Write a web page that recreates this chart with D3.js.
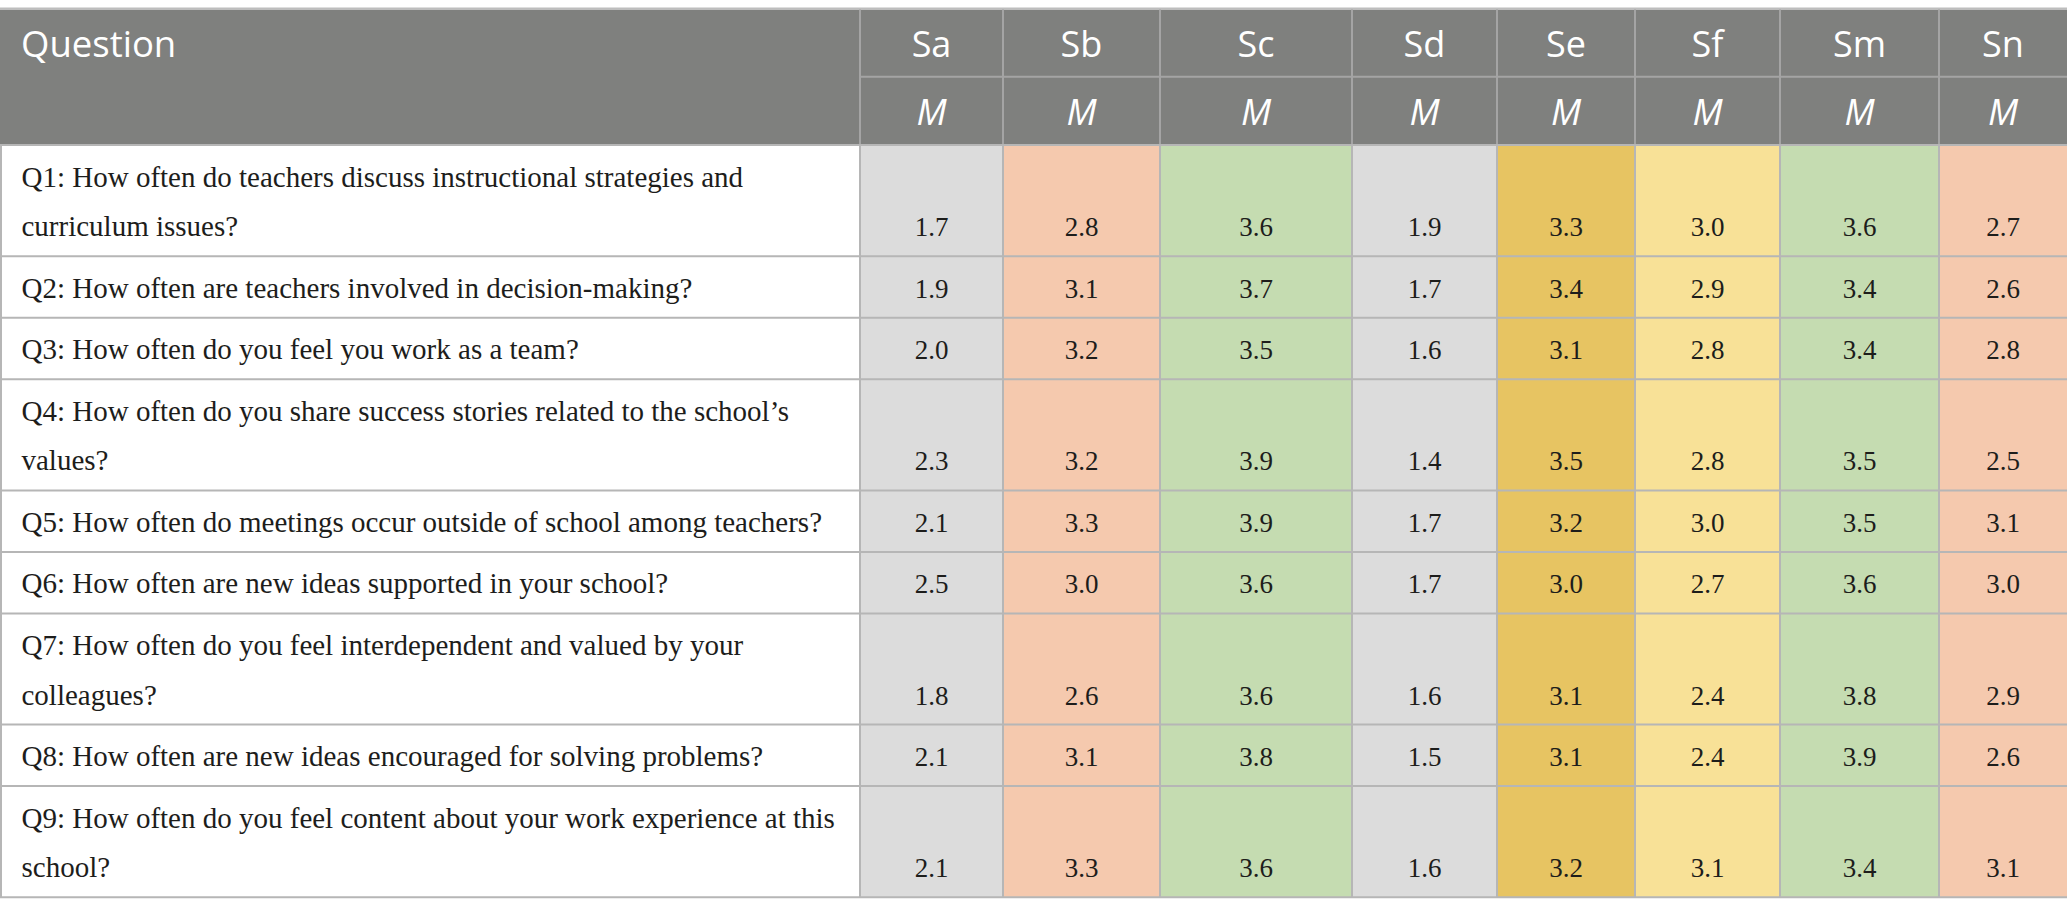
<!DOCTYPE html>
<html>
<head>
<meta charset="utf-8">
<script src="https://cdn.jsdelivr.net/npm/d3@7"></script>
<style>
  body { margin: 0; background: #fff; }
  svg { display: block; }
</style>
</head>
<body>
<div id="table"></div>
<script>
// Schools (columns) and the stat shown under each
const schools = ["Sa", "Sb", "Sc", "Sd", "Se", "Sf", "Sm", "Sn"];
const statLabel = "M";
const firstHeader = "Question";

// Question text, split where the original wraps
const questions = [
  ["Q1: How often do teachers discuss instructional strategies and", "curriculum issues?"],
  ["Q2: How often are teachers involved in decision-making?"],
  ["Q3: How often do you feel you work as a team?"],
  ["Q4: How often do you share success stories related to the school\u2019s", "values?"],
  ["Q5: How often do meetings occur outside of school among teachers?"],
  ["Q6: How often are new ideas supported in your school?"],
  ["Q7: How often do you feel interdependent and valued by your", "colleagues?"],
  ["Q8: How often are new ideas encouraged for solving problems?"],
  ["Q9: How often do you feel content about your work experience at this", "school?"]
];

// Mean per school, Q1..Q9
const sa = [1.7, 1.9, 2.0, 2.3, 2.1, 2.5, 1.8, 2.1, 2.1];
const sb = [2.8, 3.1, 3.2, 3.2, 3.3, 3.0, 2.6, 3.1, 3.3];
const sc = [3.6, 3.7, 3.5, 3.9, 3.9, 3.6, 3.6, 3.8, 3.6];
const sd = [1.9, 1.7, 1.6, 1.4, 1.7, 1.7, 1.6, 1.5, 1.6];
const se = [3.3, 3.4, 3.1, 3.5, 3.2, 3.0, 3.1, 3.1, 3.2];
const sf = [3.0, 2.9, 2.8, 2.8, 3.0, 2.7, 2.4, 2.4, 3.1];
const sm = [3.6, 3.4, 3.4, 3.5, 3.5, 3.6, 3.8, 3.9, 3.4];
const sn = [2.7, 2.6, 2.8, 2.5, 3.1, 3.0, 2.9, 2.6, 3.1];

const series = { Sa: sa, Sb: sb, Sc: sc, Sd: sd, Se: se, Sf: sf, Sm: sm, Sn: sn };

// Layout
const W = 2067, H = 916;
const tableTop = 9.5, headMid = 76.7, headBottom = 145;
const colWidths = [860, 143, 157, 192, 145, 138, 145, 159, 128];
const linePad = 11.8, lineStep = 49.7;

const fills = {
  Sa: "#dcdcdc", Sb: "#f5c9ae", Sc: "#c5dcb1", Sd: "#dcdcdc",
  Se: "#e7c462", Sf: "#f8e197", Sm: "#c5dcb1", Sn: "#f5c9ae"
};

const columns = [firstHeader, ...schools];
const lefts = [0, ...d3.cumsum(colWidths)].slice(0, columns.length);
const x = d3.scaleOrdinal().domain(columns).range(lefts);
const colW = d3.scaleOrdinal().domain(columns).range(colWidths);

const rowH = questions.map(q => linePad + lineStep * q.length);
const rowTops = [headBottom, ...d3.cumsum(rowH).map(v => headBottom + v)];
const y = d3.scaleOrdinal().domain(d3.range(questions.length)).range(rowTops);
const tableBottom = rowTops[questions.length];

const svg = d3.select("#table").append("svg")
  .attr("width", W)
  .attr("height", H);

// Header background
svg.append("rect")
  .attr("x", 0).attr("y", tableTop)
  .attr("width", W).attr("height", headBottom - tableTop)
  .attr("fill", "#7f807e");

svg.append("line")
  .attr("x1", 0).attr("x2", W)
  .attr("y1", tableTop - 1).attr("y2", tableTop - 1)
  .attr("stroke", "#bdbdbd").attr("stroke-width", 2);

// Body cells
const cells = [];
questions.forEach((q, i) => {
  cells.push({ row: i, col: firstHeader, fill: "#ffffff" });
  schools.forEach(s => cells.push({ row: i, col: s, fill: fills[s], value: series[s][i] }));
});

svg.append("g")
  .selectAll("rect")
  .data(cells)
  .join("rect")
  .attr("x", d => x(d.col))
  .attr("y", d => y(d.row))
  .attr("width", d => colW(d.col))
  .attr("height", d => rowH[d.row])
  .attr("fill", d => d.fill);

// Grid lines: header
const grid = svg.append("g").attr("fill", "none");
grid.append("line")
  .attr("x1", x("Sa")).attr("x2", W)
  .attr("y1", headMid).attr("y2", headMid)
  .attr("stroke", "#a4a4a4").attr("stroke-width", 2);

grid.selectAll(".hv")
  .data(schools)
  .join("line")
  .attr("class", "hv")
  .attr("x1", d => x(d)).attr("x2", d => x(d))
  .attr("y1", tableTop).attr("y2", headBottom)
  .attr("stroke", "#a4a4a4").attr("stroke-width", 2);

// Grid lines: body
grid.selectAll(".bv")
  .data([...schools, "left"])
  .join("line")
  .attr("class", "bv")
  .attr("x1", d => d === "left" ? 1 : x(d))
  .attr("x2", d => d === "left" ? 1 : x(d))
  .attr("y1", headBottom).attr("y2", tableBottom)
  .attr("stroke", "#b6b6b6").attr("stroke-width", 2);

grid.selectAll(".bh")
  .data(rowTops)
  .join("line")
  .attr("class", "bh")
  .attr("x1", 0).attr("x2", W)
  .attr("y1", d => d).attr("y2", d => d)
  .attr("stroke", "#b6b6b6").attr("stroke-width", 2);

// Header text
const headFont = "'Open Sans', 'Noto Sans', sans-serif";
svg.append("text")
  .attr("x", 21).attr("y", 56.7)
  .attr("font-family", headFont).attr("font-size", 36.5)
  .attr("fill", "#fff")
  .text(firstHeader);

svg.append("g")
  .selectAll("text")
  .data(schools)
  .join("text")
  .attr("x", d => x(d) + colW(d) / 2)
  .attr("y", 56.7)
  .attr("text-anchor", "middle")
  .attr("font-family", headFont).attr("font-size", 36)
  .attr("fill", "#fff")
  .text(d => d);

svg.append("g")
  .selectAll("text")
  .data(schools)
  .join("text")
  .attr("x", d => x(d) + colW(d) / 2)
  .attr("y", 125)
  .attr("text-anchor", "middle")
  .attr("font-family", headFont).attr("font-size", 36)
  .attr("font-style", "italic")
  .attr("fill", "#fff")
  .text(statLabel);

// Question text
const bodyFont = "'Liberation Serif', 'DejaVu Serif', serif";
const qText = svg.append("g")
  .selectAll("text")
  .data(questions)
  .join("text")
  .attr("font-family", bodyFont)
  .attr("font-size", 29)
  .attr("fill", "#1d1d1b");

qText.selectAll("tspan")
  .data((d, i) => d.map((line, j) => ({ line, j, i })))
  .join("tspan")
  .attr("x", 21.5)
  .attr("y", d => y(d.i) + 41.5 + lineStep * d.j)
  .text(d => d.line);

// Values, sitting on the last line of each row
svg.append("g")
  .selectAll("text")
  .data(cells.filter(d => d.value !== undefined))
  .join("text")
  .attr("x", d => x(d.col) + colW(d.col) / 2)
  .attr("y", d => y(d.row) + rowH[d.row] - 20)
  .attr("text-anchor", "middle")
  .attr("font-family", bodyFont)
  .attr("font-size", 27)
  .attr("fill", "#1d1d1b")
  .text(d => d.value.toFixed(1));
</script>
</body>
</html>
